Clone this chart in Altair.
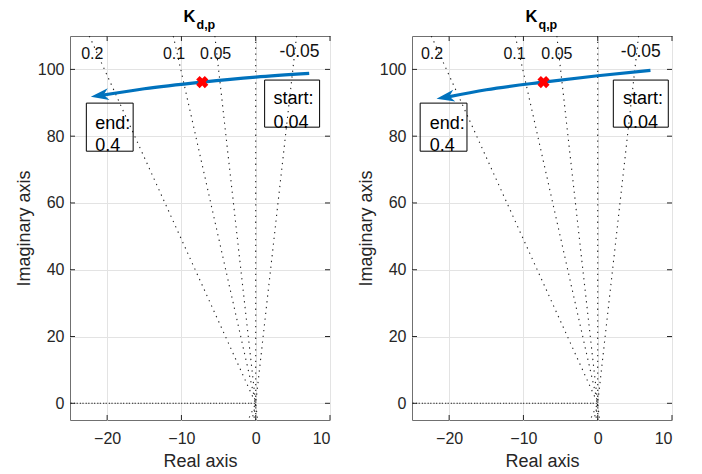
import altair as alt
import pandas as pd

FONT = "Liberation Sans"
TXT = "#262626"

# ---- axes ----
x_domain = [-25, 10]
y_domain = [-5, 110]
x_ticks = [-20, -10, 0, 10]
y_ticks = [0, 20, 40, 60, 80, 100]

# ---- damping-ratio grid rays (end point of each ray) ----
ray_zeta = ["0.2", "0.1", "0.05", "0", "-0.05", "1"]
ray_end_re = [-22.4, -11.1, -5.5, 0.0, 5.5, -110.0]
ray_end_im = [110.0, 110.0, 110.0, 110.0, 110.0, 0.0]

# ---- damping labels ----
zlabel_text = ["0.2", "0.1", "0.05", "-0.05"]
zlabel_im = [104.5, 104.5, 104.5, 105.3]
zlabel_size = [16, 16, 16, 17.5]
zlabel_re_d = [-22.0, -11.0, -5.4, 5.9]
zlabel_re_q = [-22.3, -11.2, -5.5, 5.8]

# ---- root locus branches ----
locus_re_d = [7.2, 0.0, -7.2, -15.0, -20.8]
locus_im_d = [98.8, 97.7, 96.2, 94.2, 92.2]
tip_d = [-22.2, 91.8]
mark_d = [-7.2, 96.2]

locus_re_q = [7.1, 0.0, -7.3, -15.0, -20.3]
locus_im_q = [99.7, 98.1, 96.2, 93.9, 91.7]
tip_q = [-21.7, 91.2]
mark_q = [-7.3, 96.2]

# ---- annotation boxes: [start, end] ----
box_x1_d = [1.2, -22.8]
box_x2_d = [8.6, -16.5]
box_x1_q = [2.1, -23.9]
box_x2_q = [9.5, -17.6]
box_y1 = [96.8, 89.9]
box_y2 = [82.7, 75.5]
box_text = ["start:", "0.04", "end:", "0.4"]
box_text_im = [91.1, 84.0, 83.7, 77.0]
box_text_re_d = [2.4, 2.4, -21.6, -21.6]
box_text_re_q = [3.4, 3.4, -22.6, -22.6]

W, H = 260, 384
TICK = 5

xs = alt.Scale(domain=x_domain, nice=False, zero=False)
ys = alt.Scale(domain=y_domain, nice=False, zero=False)

ARROW = "M0,0 L1.8,-0.6 L1.3,0 L1.8,0.6 Z"


def panel(sub, locus_re, locus_im, tip, mark, zl_re, bx1, bx2, bt_re, tip_angle):
    rows = []
    for name, er, ei in zip(ray_zeta, ray_end_re, ray_end_im):
        rows += [dict(z=name, o=0, re=er, im=ei),
                 dict(z=name, o=1, re=0.0, im=0.0),
                 dict(z=name, o=2, re=er, im=-ei)]
    rays = pd.DataFrame(rows)
    xenc = alt.X("re:Q", scale=xs, title="Real axis",
                 axis=alt.Axis(values=x_ticks))
    yenc = alt.Y("im:Q", scale=ys, title="Imaginary axis",
                 axis=alt.Axis(values=y_ticks))

    ray_layer = alt.Chart(rays).mark_line(
        clip=True, color="#222222", strokeWidth=1.1, strokeDash=[1.3, 4.5]
    ).encode(x=xenc, y=yenc, detail="z:N", order="o:Q")

    # inward ticks on all four sides
    xt = pd.DataFrame(dict(re=x_ticks))
    yt = pd.DataFrame(dict(im=y_ticks))
    tick_style = dict(color=TXT, strokeWidth=1)
    xt_bot = alt.Chart(xt).mark_rule(**tick_style).encode(
        x="re:Q", y=alt.value(H), y2=alt.value(H - TICK))
    xt_top = alt.Chart(xt).mark_rule(**tick_style).encode(
        x="re:Q", y=alt.value(0), y2=alt.value(TICK))
    yt_l = alt.Chart(yt).mark_rule(**tick_style).encode(
        y="im:Q", x=alt.value(0), x2=alt.value(TICK))
    yt_r = alt.Chart(yt).mark_rule(**tick_style).encode(
        y="im:Q", x=alt.value(W), x2=alt.value(W - TICK))

    zl = pd.DataFrame(dict(t=zlabel_text, re=zl_re, im=zlabel_im, s=zlabel_size))
    zl_layer = alt.Chart(zl).mark_text(
        font=FONT, color="#111111", align="center", baseline="middle"
    ).encode(x="re:Q", y="im:Q", text="t:N",
             size=alt.Size("s:Q", scale=None, legend=None))

    loc = pd.DataFrame(dict(re=locus_re, im=locus_im, o=list(range(len(locus_re)))))
    loc_layer = alt.Chart(loc).mark_line(
        color="#0072BD", strokeWidth=3.2, interpolate="monotone"
    ).encode(x="re:Q", y="im:Q", order="o:Q")

    tipdf = pd.DataFrame(dict(re=[tip[0]], im=[tip[1]]))
    tip_layer = alt.Chart(tipdf).mark_point(
        shape=ARROW, filled=True, color="#0072BD", size=400, opacity=1,
        angle=tip_angle, strokeWidth=0
    ).encode(x="re:Q", y="im:Q")

    mk = pd.DataFrame(dict(re=[mark[0]], im=[mark[1]]))
    mk_layer = alt.Chart(mk).mark_point(
        shape="cross", angle=45, filled=True, color="#ff0000", size=150,
        opacity=1, strokeWidth=0
    ).encode(x="re:Q", y="im:Q")

    bx = pd.DataFrame(dict(x1=bx1, x2=bx2, y1=box_y1, y2=box_y2))
    bx_layer = alt.Chart(bx).mark_rect(
        fill=None, fillOpacity=0, stroke="#000000", strokeWidth=1
    ).encode(x="x1:Q", x2="x2:Q", y="y1:Q", y2="y2:Q")

    bt = pd.DataFrame(dict(t=box_text, re=bt_re, im=box_text_im))
    bt_layer = alt.Chart(bt).mark_text(
        font=FONT, fontSize=18, color="#000000", align="left", baseline="middle"
    ).encode(x="re:Q", y="im:Q", text="t:N")

    t1 = alt.Chart(pd.DataFrame(dict(t=["K"]))).mark_text(
        font=FONT, fontSize=16.5, fontWeight="bold", color="#000000",
        align="right", baseline="alphabetic"
    ).encode(x=alt.value(125.5), y=alt.value(-14), text="t:N")
    t2 = alt.Chart(pd.DataFrame(dict(t=[sub]))).mark_text(
        font=FONT, fontSize=12.5, fontWeight="bold", color="#000000",
        align="left", baseline="alphabetic"
    ).encode(x=alt.value(126.5), y=alt.value(-7.5), text="t:N")

    return alt.layer(ray_layer, xt_bot, xt_top, yt_l, yt_r, zl_layer, loc_layer,
                     tip_layer, mk_layer, bx_layer, bt_layer, t1, t2
                     ).properties(width=W, height=H)


left = panel("d,p", locus_re_d, locus_im_d, tip_d, mark_d, zlabel_re_d,
             box_x1_d, box_x2_d, box_text_re_d, 351.5)
right = panel("q,p", locus_re_q, locus_im_q, tip_q, mark_q, zlabel_re_q,
              box_x1_q, box_x2_q, box_text_re_q, 350)

chart = alt.hconcat(left, right, spacing=82, bounds="flush").properties(
    padding={"left": 6, "top": 0, "right": 0, "bottom": 0}
).configure_view(
    stroke="#707070", strokeWidth=1
).configure_axis(
    grid=True, gridColor="#e3e3e3", gridWidth=1, domain=False, ticks=False,
    labelFont=FONT, titleFont=FONT, labelFontSize=16, titleFontSize=18,
    labelColor=TXT, titleColor=TXT, titleFontWeight="normal"
).configure_axisX(
    labelPadding=10, titlePadding=6
).configure_axisY(
    labelPadding=6, titlePadding=4
)

chart.save("out.html", embed_options={"renderer": "svg", "actions": False})
